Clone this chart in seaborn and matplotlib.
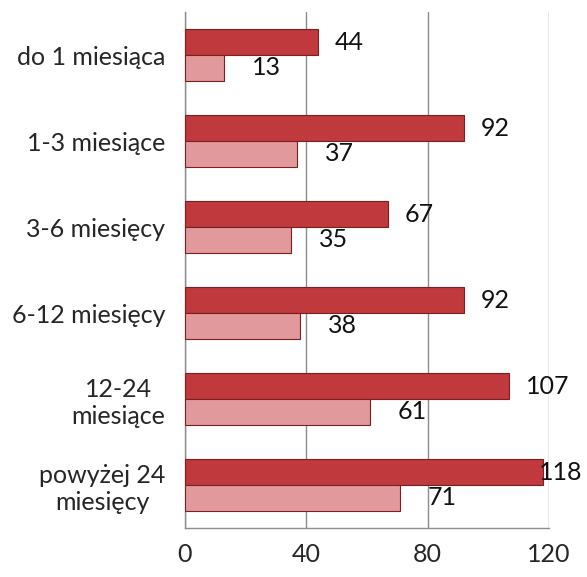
import matplotlib
matplotlib.use('Agg')
import matplotlib.pyplot as plt
import pandas as pd
import seaborn as sns

# chart data
CATEGORIES = [
    'do 1 miesiąca',
    '1-3 miesiące',
    '3-6 miesięcy',
    '6-12 miesięcy',
    '12-24\nmiesiące',
    'powyżej 24\nmiesięcy',
]
SERIES = ['seria 1', 'seria 2']
VALUES_DARK = [44, 92, 67, 92, 107, 118]
VALUES_LIGHT = [13, 37, 35, 38, 61, 71]
X_TICKS = [0, 40, 80, 120]

DARK = '#C0393C'
LIGHT = '#E1999C'

sns.set_style('white')
plt.rcParams['font.family'] = ['Lato', 'DejaVu Sans']

df = pd.DataFrame({
    'kategoria': CATEGORIES * 2,
    'seria': [SERIES[0]] * len(CATEGORIES) + [SERIES[1]] * len(CATEGORIES),
    'wartosc': VALUES_DARK + VALUES_LIGHT,
})

fig = plt.figure(figsize=(5.87, 5.77), dpi=100)
ax = fig.add_axes([0.315, 0.085, 0.620, 0.894])

sns.barplot(data=df, y='kategoria', x='wartosc', hue='seria', orient='h',
            palette=[DARK, LIGHT], width=0.6, saturation=1, ax=ax,
            edgecolor='#7a1f22', linewidth=0.8, legend=False, zorder=3)

ax.set_xlim(0, 120)
ax.set_ylim(len(CATEGORIES) - 0.5, -0.5)

# value labels next to each bar
offsets = {0: 12, 1: 20}
labels = []
for i, cont in enumerate(ax.containers):
    for bar, val in zip(cont, [VALUES_DARK, VALUES_LIGHT][i]):
        t = ax.annotate(str(val),
                        (bar.get_width(), bar.get_y() + bar.get_height() / 2),
                        xytext=(offsets[i], 0), textcoords='offset points',
                        ha='left', va='center', fontsize=18, color='#111111',
                        annotation_clip=False)
        labels.append((t, i))

# pull labels that run past the figure edge back inside
fig.canvas.draw()
renderer = fig.canvas.get_renderer()
limit = fig.bbox.width - 5
for t, i in labels:
    ext = t.get_window_extent(renderer)
    if ext.x1 > limit:
        shift_pt = (ext.x1 - limit) * 72 / fig.dpi
        t.set_position((offsets[i] - shift_pt, 0))

ax.set_xticks(X_TICKS)
ax.set_xticklabels([str(t) for t in X_TICKS], fontsize=18)
ax.set_xlabel('')
ax.set_ylabel('')

# category labels centred between the tick marks at group boundaries
ax.set_yticks(range(len(CATEGORIES)))
ax.set_yticklabels(CATEGORIES, fontsize=18, multialignment='center')
ax.set_yticks([k - 0.5 for k in range(len(CATEGORIES) + 1)], minor=True)
ax.tick_params(axis='y', which='major', length=0, pad=14)
ax.tick_params(axis='y', which='minor', length=6, color='#8c8c8c', width=1)
ax.tick_params(axis='x', length=6, color='#8c8c8c', width=1, pad=5)

ax.grid(axis='x', color='#8c8c8c', linewidth=1, zorder=0)
ax.set_axisbelow(True)
for side in ['top', 'right']:
    ax.spines[side].set_visible(False)
for side in ['left', 'bottom']:
    ax.spines[side].set_color('#8c8c8c')
    ax.spines[side].set_linewidth(1)

plt.savefig('out.png', dpi=100)
plt.close()
